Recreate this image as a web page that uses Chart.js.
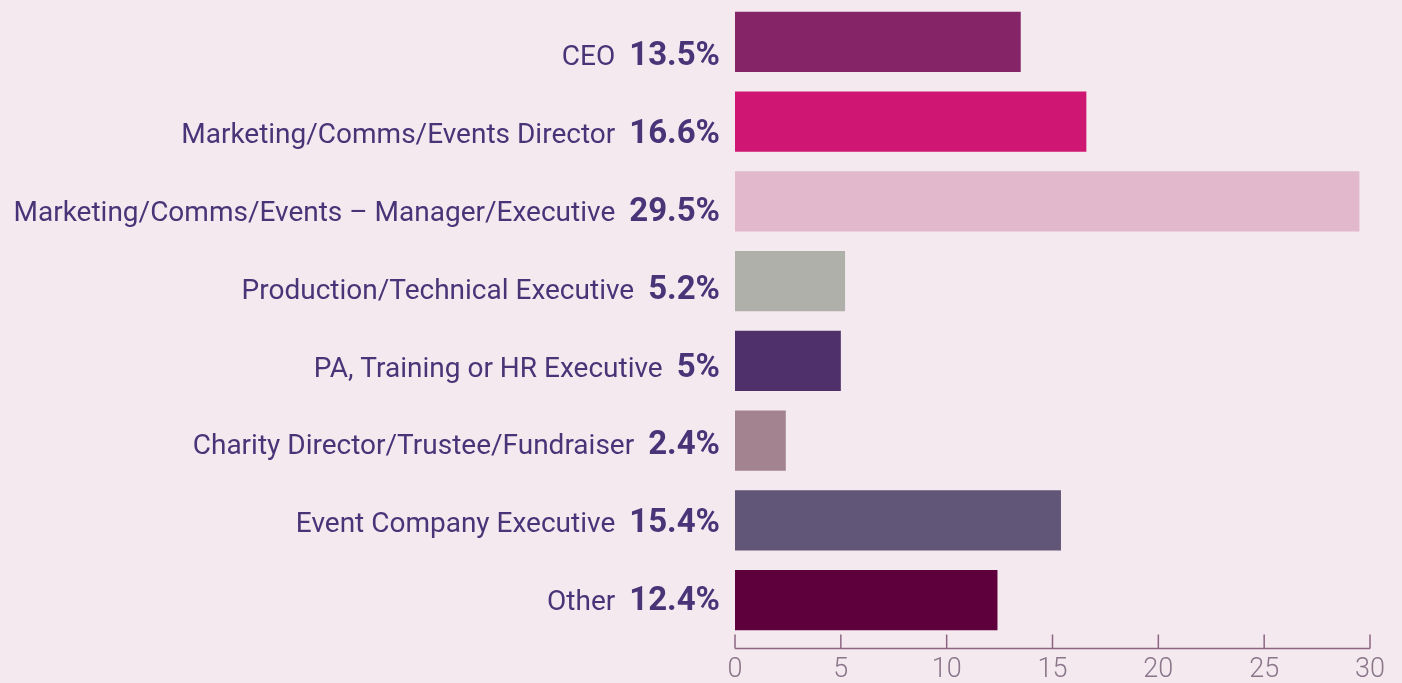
<!DOCTYPE html>
<html>
<head>
<meta charset="utf-8">
<script src="https://cdn.jsdelivr.net/npm/chart.js@4.4.1/dist/chart.umd.min.js"></script>
<style>
  html, body { margin: 0; padding: 0; background: #f4e9ef; }
  #wrap { width: 1402px; height: 683px; position: relative; }
</style>
</head>
<body>
<div id="wrap"><canvas id="grafico"></canvas></div>
<script>
const categorias = [
    'CEO',
    'Marketing/Comms/Events Director',
    'Marketing/Comms/Events – Manager/Executive',
    'Production/Technical Executive',
    'PA, Training or HR Executive',
    'Charity Director/Trustee/Fundraiser',
    'Event Company Executive',
    'Other'
];
const valores = [13.5, 16.6, 29.5, 5.2, 5, 2.4, 15.4, 12.4];
const etiquetasPct = ['13.5%', '16.6%', '29.5%', '5.2%', '5%', '2.4%', '15.4%', '12.4%'];
const colores = ['#852466', '#cf1672', '#e2b8cd', '#b0b0aa', '#50306a', '#a2838f', '#615578', '#5e003b'];
const ticksX = [0, 5, 10, 15, 20, 25, 30];

const TEXTO = '#4a3478';

// etiquetas de la izquierda: nombre normal + porcentaje en negrita
const etiquetasIzq = {
    id: 'etiquetasIzq',
    afterDraw(chart) {
        const ctx = chart.ctx;
        const y = chart.scales.y;
        const right = chart.chartArea.left - 15;
        ctx.save();
        ctx.fillStyle = TEXTO;
        ctx.textBaseline = 'alphabetic';
        ctx.textAlign = 'right';
        categorias.forEach((nombre, i) => {
            const base = y.getPixelForValue(i) + 23 - i * 1.84;
            ctx.font = '700 33px Roboto';
            ctx.fillText(etiquetasPct[i], right, base);
            const w = ctx.measureText(etiquetasPct[i]).width;
            ctx.font = '400 28px Roboto';
            ctx.fillText(nombre, right - w - 14, base);
        });
        ctx.restore();
    }
};

// eje inferior con marcas hacia arriba
const ejeX = {
    id: 'ejeX',
    afterDraw(chart) {
        const ctx = chart.ctx;
        const x = chart.scales.x;
        const yLinea = chart.chartArea.bottom + 8.5;
        ctx.save();
        ctx.strokeStyle = '#8c6582';
        ctx.lineWidth = 1.5;
        ctx.beginPath();
        ctx.moveTo(x.getPixelForValue(0), yLinea);
        ctx.lineTo(x.getPixelForValue(30), yLinea);
        ticksX.forEach(v => {
            const px = x.getPixelForValue(v);
            ctx.moveTo(px, yLinea);
            ctx.lineTo(px, yLinea - 14);
        });
        ctx.stroke();
        ctx.restore();
    }
};

const ctx = document.getElementById('grafico').getContext('2d');
new Chart(ctx, {
    type: 'bar',
    data: {
        labels: categorias,
        datasets: [{
            data: valores,
            backgroundColor: colores,
            borderWidth: 0,
            barPercentage: 0.755,
            categoryPercentage: 1
        }]
    },
    options: {
        indexAxis: 'y',
        responsive: true,
        maintainAspectRatio: false,
        animation: false,
        layout: {
            padding: { left: 735, right: 32, top: 2, bottom: 0 }
        },
        plugins: {
            legend: { display: false },
            tooltip: { enabled: false }
        },
        scales: {
            y: { display: false },
            x: {
                min: 0,
                max: 30,
                afterFit(scale) { scale.height = 43; },
                afterBuildTicks(scale) { scale.ticks = ticksX.map(v => ({ value: v })); },
                border: { display: false },
                grid: { display: false, drawTicks: false },
                ticks: {
                    padding: 14,
                    color: '#8a7589',
                    font: { family: 'Roboto', size: 27, weight: '300' }
                }
            }
        }
    },
    plugins: [etiquetasIzq, ejeX]
});
</script>
</body>
</html>
